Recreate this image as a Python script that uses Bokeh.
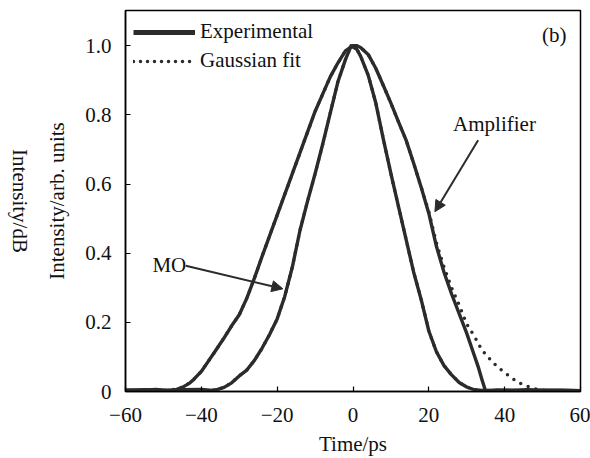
import math
from bokeh.plotting import figure
from bokeh.layouts import row
from bokeh.models import Range1d, FixedTicker, Legend, LegendItem, Label, Arrow, NormalHead
from bokeh.core.properties import value
from bokeh.embed import file_html
from bokeh.resources import INLINE

# ---- data ----
amp_t = [-60, -56, -52, -49, -47, -45, -43, -42, -40, -38, -36, -34, -32, -30, -28, -26, -24,
         -22, -20, -18, -16, -14, -12, -10, -8, -6, -4, -2, 0, 1, 2, 4, 6, 8, 10, 12, 14, 16,
         18, 20, 22, 24, 26, 28, 30, 31.5, 33, 34, 35, 38, 42, 46, 50, 55, 60]
amp_exp = [0.004, 0.003, 0.006, 0.003, 0.004, 0.012, 0.025, 0.035, 0.058, 0.09, 0.122, 0.155,
           0.19, 0.222, 0.27, 0.328, 0.39, 0.45, 0.51, 0.57, 0.63, 0.69, 0.75, 0.81, 0.86, 0.91,
           0.95, 0.985, 1.0, 1.0, 0.995, 0.975, 0.935, 0.885, 0.834, 0.78, 0.727, 0.66, 0.59,
           0.515, 0.42, 0.345, 0.282, 0.225, 0.168, 0.12, 0.072, 0.035, 0.0, 0.004, 0.003,
           0.005, 0.003, 0.004, 0.002]

amp_fit_t = [-60, -52, -49, -47, -45, -43, -42, -40, -38, -36, -34, -32, -30, -28, -26, -24,
             -22, -20, -18, -16, -14, -12, -10, -8, -6, -4, -2, 0, 1, 2, 4, 6, 8, 10, 12, 14,
             16, 18, 20, 22, 24, 26, 28, 30, 32, 34, 36, 38, 40, 42, 44, 46, 48, 50, 53, 60]
amp_fit = [0.0, 0.001, 0.003, 0.006, 0.013, 0.025, 0.035, 0.058, 0.09, 0.122, 0.155, 0.19,
           0.222, 0.27, 0.328, 0.39, 0.45, 0.51, 0.57, 0.63, 0.69, 0.75, 0.81, 0.86, 0.91, 0.95,
           0.985, 1.0, 1.0, 0.995, 0.975, 0.935, 0.885, 0.834, 0.78, 0.727, 0.66, 0.59, 0.52,
           0.43, 0.36, 0.30, 0.25, 0.195, 0.16, 0.12, 0.095, 0.072, 0.055, 0.038, 0.024, 0.015,
           0.008, 0.004, 0.0, 0.0]

mo_t = [-60, -55, -50, -45, -40, -37, -35.7, -34, -32, -30, -28, -26, -24, -22, -20, -18, -16,
        -14, -12, -10, -8, -6, -4, -2, -0.5, 1, 2, 4, 6, 8, 10, 12, 14, 16, 18, 20, 22, 24, 26,
        28, 30, 32, 34, 38, 44, 50, 60]
mo_exp = [0.004, 0.005, 0.003, 0.005, 0.006, 0.003, 0.006, 0.012, 0.025, 0.045, 0.062, 0.09,
          0.125, 0.165, 0.21, 0.275, 0.36, 0.465, 0.55, 0.63, 0.715, 0.805, 0.895, 0.96, 1.0,
          0.99, 0.97, 0.915, 0.835, 0.73, 0.63, 0.535, 0.44, 0.345, 0.265, 0.175, 0.115, 0.075,
          0.048, 0.026, 0.013, 0.005, 0.003, 0.004, 0.003, 0.004, 0.002]

mo_fit_t = [-60, -42, -38, -35.7, -34, -32, -30, -28, -26, -24, -22, -20, -18, -16, -14, -12,
            -10, -8, -6, -4, -2, -0.5, 1, 2, 4, 6, 8, 10, 12, 14, 16, 18, 20, 22, 24, 26, 28, 30,
            32, 35, 60]
mo_fit = [0.0, 0.0, 0.002, 0.006, 0.012, 0.025, 0.045, 0.062, 0.09, 0.125, 0.165, 0.21, 0.275,
          0.36, 0.465, 0.55, 0.63, 0.715, 0.805, 0.895, 0.96, 1.0, 0.99, 0.97, 0.915, 0.835,
          0.73, 0.63, 0.535, 0.44, 0.345, 0.265, 0.175, 0.115, 0.075, 0.048, 0.026, 0.013,
          0.005, 0.0, 0.0]

x_ticks = [-60, -40, -20, 0, 20, 40, 60]
x_tick_labels = ["\u221260", "\u221240", "\u221220", "0", "20", "40", "60"]
y_ticks = [0, 0.2, 0.4, 0.6, 0.8, 1.0]
y_tick_labels = ["0", "0.2", "0.4", "0.6", "0.8", "1.0"]

FONT = "Liberation Serif"
FS = "21px"
INK = "#2b2b2b"
TXT = "#111111"

# narrow strip on the far left carrying the stray "Intensity/dB" label
side = figure(width=40, height=458, x_range=Range1d(0, 1), y_range=Range1d(0, 1),
              output_backend="svg", toolbar_location=None, x_axis_type=None, y_axis_type=None,
              min_border_left=0, min_border_right=0, min_border_top=0, min_border_bottom=0)
side.grid.visible = False
side.outline_line_color = None
side.text(x=[0.48], y=[0.50], text=["Intensity/dB"], angle=-math.pi / 2,
          text_font=value(FONT), text_font_size=FS, text_color=TXT,
          text_align="center", text_baseline="middle")

p = figure(width=550, height=458, x_range=Range1d(-60, 60), y_range=Range1d(0, 1.102),
           output_backend="svg", toolbar_location=None,
           min_border_left=85, min_border_right=10, min_border_top=10, min_border_bottom=66)
p.grid.visible = False
p.outline_line_color = "black"
p.outline_line_width = 1.5
p.background_fill_color = "white"
p.border_fill_color = "white"

for ax in (p.xaxis[0], p.yaxis[0]):
    ax.major_tick_in = 5
    ax.major_tick_out = 0
    ax.minor_tick_line_color = None
    ax.axis_line_width = 1.5
    ax.axis_line_color = "black"
    ax.major_tick_line_color = "black"
    ax.major_tick_line_width = 1.2
    ax.major_label_text_font = FONT
    ax.major_label_text_font_size = FS
    ax.major_label_text_color = TXT
    ax.axis_label_text_font = FONT
    ax.axis_label_text_font_size = FS
    ax.axis_label_text_font_style = "normal"
    ax.axis_label_text_color = TXT

p.xaxis.ticker = FixedTicker(ticks=x_ticks)
p.xaxis.major_label_overrides = dict(zip(x_ticks, x_tick_labels))
p.yaxis.ticker = FixedTicker(ticks=y_ticks)
p.yaxis.major_label_overrides = dict(zip(y_ticks, y_tick_labels))
p.xaxis.axis_label = "Time/ps"
p.yaxis.axis_label = "Intensity/arb. units"
p.xaxis.major_label_standoff = 16
p.xaxis.axis_label_standoff = 7
p.yaxis.major_label_standoff = 14
p.yaxis.axis_label_standoff = 13

# curves
p.line(amp_fit_t, amp_fit, line_color=INK, line_width=3.5, line_dash="0 8", line_cap="round")
p.line(mo_fit_t, mo_fit, line_color=INK, line_width=3.5, line_dash="0 8", line_cap="round")
p.line(amp_t, amp_exp, line_color=INK, line_width=3.4, line_join="round")
p.line(mo_t, mo_exp, line_color=INK, line_width=3.4, line_join="round")

# legend sample glyphs (drawn off-range, only used by the legend)
leg_exp = p.line([-200, -190], [-5, -5], line_color=INK, line_width=5)
leg_fit = p.line([-200, -190], [-5, -5], line_color=INK, line_width=3.5, line_dash="0 7",
                 line_cap="round")
legend = Legend(items=[LegendItem(label="Experimental", renderers=[leg_exp]),
                       LegendItem(label="Gaussian fit", renderers=[leg_fit])],
                location=(8, 318), glyph_width=62, glyph_height=20, label_height=20,
                label_standoff=5, spacing=4, padding=0, margin=0,
                border_line_color=None, background_fill_alpha=0,
                label_text_font=FONT, label_text_font_size=FS, label_text_color=TXT)
p.add_layout(legend)

# annotations
p.add_layout(Label(x=53.1, y=1.03, text="(b)", text_font=FONT, text_font_size=FS,
                   text_align="center", text_baseline="middle", text_color=TXT))
p.add_layout(Label(x=-52.9, y=0.366, text="MO", text_font=FONT, text_font_size=FS,
                   text_align="left", text_baseline="middle", text_color=TXT))
p.add_layout(Label(x=26.4, y=0.773, text="Amplifier", text_font=FONT, text_font_size=FS,
                   text_align="left", text_baseline="middle", text_color=TXT))
p.add_layout(Arrow(x_start=-44.1, y_start=0.364, x_end=-18.5, y_end=0.297,
                   line_color=INK, line_width=2,
                   end=NormalHead(size=11, fill_color=INK, line_color=INK)))
p.add_layout(Arrow(x_start=33.0, y_start=0.727, x_end=21.6, y_end=0.52,
                   line_color=INK, line_width=2,
                   end=NormalHead(size=11, fill_color=INK, line_color=INK)))

layout = row(side, p)
open("out.html", "w").write(file_html(layout, INLINE))
